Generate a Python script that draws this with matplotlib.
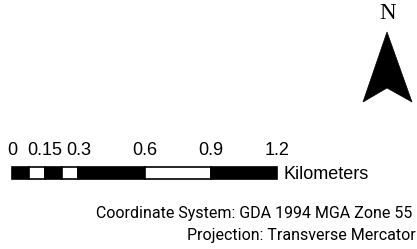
import matplotlib.pyplot as plt
from matplotlib.patches import Polygon

# scale bar segments (km) and fill colours
seg_start = [0.0, 0.075, 0.15, 0.225, 0.3, 0.6, 0.9]
seg_end = [0.075, 0.15, 0.225, 0.3, 0.6, 0.9, 1.2]
seg_color = ['black', 'white', 'black', 'white', 'black', 'white', 'black']
tick_vals = [0, 0.15, 0.3, 0.6, 0.9, 1.2]
tick_labels = ['0', '0.15', '0.3', '0.6', '0.9', '1.2']
unit_label = 'Kilometers'

# north arrow outline (pixel space)
arrow_x = [387, 363, 387, 412]
arrow_y = [32, 102, 88, 102]

info_lines = ['Coordinate System: GDA 1994 MGA Zone 55',
              'Projection: Transverse Mercator']

W, H = 417, 249
fig = plt.figure(figsize=(W / 100, H / 100), dpi=100)

# overlay axes in pixel coordinates
ax = fig.add_axes([0, 0, 1, 1])
ax.set_xlim(0, W)
ax.set_ylim(H, 0)
ax.axis('off')

ax.add_patch(Polygon(list(zip(arrow_x, arrow_y)), closed=True,
                     facecolor='black', edgecolor='black', lw=0.5))
ax.text(388, 19, 'N', family='Liberation Serif', fontsize=16.5,
        ha='center', va='baseline')

ax.text(412, 218, info_lines[0], family='Roboto', fontsize=11.5,
        ha='right', va='baseline')
ax.text(416, 240, info_lines[1], family='Roboto', fontsize=11.5,
        ha='right', va='baseline')

# scale bar axes: 0 km at x=12px, 1.2 km at x=277px, bar y 167..179
sb = fig.add_axes([12 / W, (H - 179) / H, 265 / W, 12 / H])
sb.set_xlim(0, 1.2)
sb.set_ylim(0, 1)
sb.axis('off')
widths = [e - s for s, e in zip(seg_start, seg_end)]
sb.bar(seg_start, 1, width=widths, align='edge', color=seg_color,
       edgecolor='black', linewidth=1.2, clip_on=False)
for v, lab in zip(tick_vals, tick_labels):
    sb.text(v, 2.0, lab, family='Liberation Sans', fontsize=13,
            ha='center', va='baseline', clip_on=False)
sb.text(1.2 + 6 / 220.8, 0.0, unit_label, family='Liberation Sans',
        fontsize=13, ha='left', va='baseline', clip_on=False)

fig.savefig('out.png', dpi=100)
